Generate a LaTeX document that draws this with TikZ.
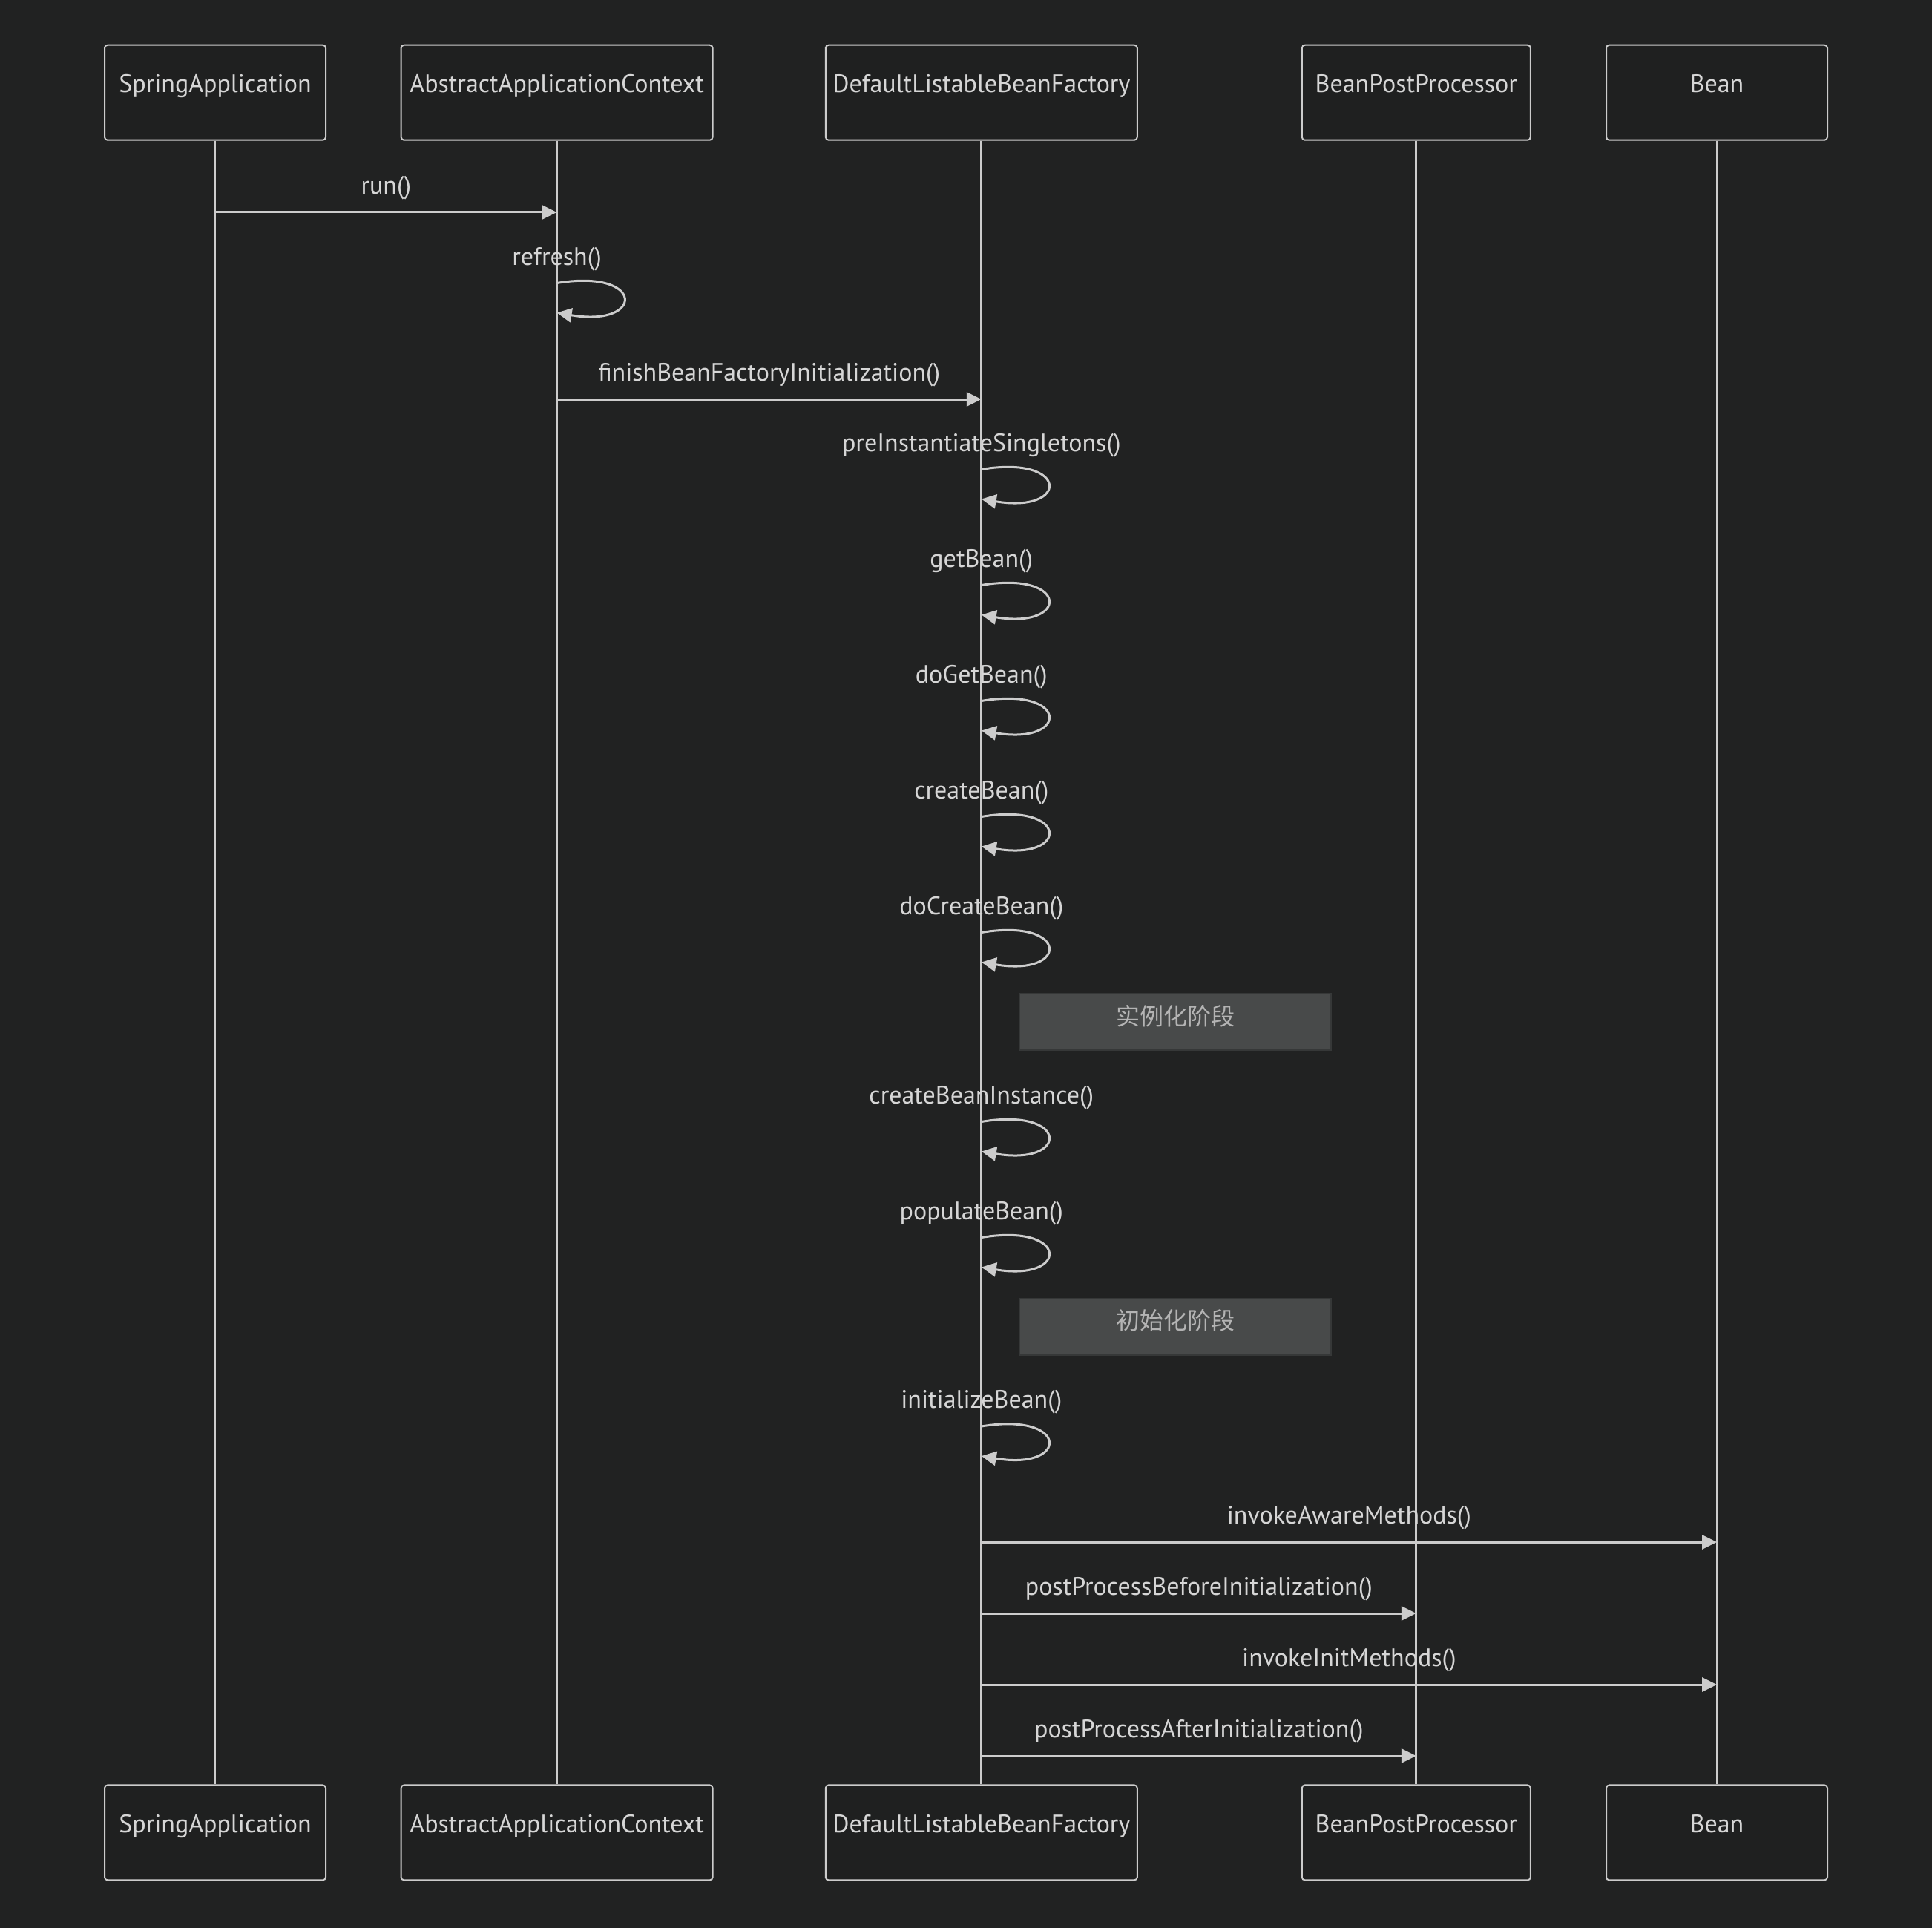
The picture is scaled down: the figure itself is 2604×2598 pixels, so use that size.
\documentclass[tikz,border=0pt]{standalone}
\usepackage{fontspec}
\setmainfont{PT Sans}
\newfontfamily\cjk{Noto Sans CJK SC}
\usetikzlibrary{arrows.meta,calc}
\definecolor{bgc}{HTML}{212222}
\definecolor{boxfill}{HTML}{1F2020}
\definecolor{linec}{HTML}{CCCCCC}
\definecolor{txtc}{HTML}{D6D6D6}
\definecolor{notefill}{HTML}{484A4A}
\definecolor{notedraw}{HTML}{363838}
\definecolor{notetxt}{HTML}{B4B4B4}
\newcommand{\seqloop}[4]{%
  \draw[msg] let \p1=(#1.south |- 0,#2) in (\p1) .. controls (\x1+119pt,\y1+20pt) and (\x1+119pt,\y1-60pt) .. (\x1,\y1-40pt);
  \node[lbl] (#3) at (#1.south |- 0,#2-24.5) {#4};}
\newcommand{\seqmsg}[5]{%
  \draw[msg] (#1.south |- 0,#3) -- (#2.south |- 0,#3);
  \node[lbl] (#4) at ($(#1.south |- 0,#3-24.5)!0.5!(#2.south |- 0,#3-24.5)$) {#5};}
\begin{document}
\begin{tikzpicture}[x=1pt,y=-1pt,
  actor/.style={draw=linec, line width=2pt, fill=boxfill, rounded corners=4pt,
    minimum height=128pt, inner sep=0pt, text=txtc,
    font=\fontsize{34}{40}\selectfont, text height=23pt, text depth=23pt},
  life/.style={draw=linec, line width=2.8pt},
  msg/.style={draw=linec, line width=3pt, -{Triangle[length=20pt,width=19pt]}},
  lbl/.style={text=txtc, font=\fontsize{34}{40}\selectfont, inner sep=0pt, anchor=base},
  note/.style={draw=notedraw, line width=2pt, fill=notefill, minimum width=420pt,
    minimum height=76pt, inner sep=0pt, text=notetxt,
    font=\cjk\fontsize{32}{38}\selectfont, text height=24pt, text depth=16pt}]
\fill[bgc] (0,0) rectangle (2604,2598);
\useasboundingbox (0,0) rectangle (2604,2598);
% top actors
\node[actor,minimum width=298pt] (sa)   at (290,124.75)    {SpringApplication};
\node[actor,minimum width=420pt] (aac)  at (750.6,124.75)  {AbstractApplicationContext};
\node[actor,minimum width=420pt] (dl)   at (1322.8,124.75) {DefaultListableBeanFactory};
\node[actor,minimum width=308pt] (bpp)  at (1908.8,124.75) {BeanPostProcessor};
\node[actor,minimum width=298pt] (bean) at (2314,124.75)   {Bean};
% bottom actors
\node[actor,minimum width=298pt] (sab)   at (290,2469.4)    {SpringApplication};
\node[actor,minimum width=420pt] (aacb)  at (750.6,2469.4)  {AbstractApplicationContext};
\node[actor,minimum width=420pt] (dlb)   at (1322.8,2469.4) {DefaultListableBeanFactory};
\node[actor,minimum width=308pt] (bppb)  at (1908.8,2469.4) {BeanPostProcessor};
\node[actor,minimum width=298pt] (beanb) at (2314,2469.4)   {Bean};
% lifelines
\draw[life] (sa.south) -- (sab.north);
\draw[life] (aac.south) -- (aacb.north);
\draw[life] (dl.south) -- (dlb.north);
\draw[life] (bpp.south) -- (bppb.north);
\draw[life] (bean.south) -- (beanb.north);
% messages
\seqmsg{sa}{aac}{286}{m1}{run()}
\seqloop{aac}{381.5}{m2}{refresh()}
\seqmsg{aac}{dl}{538}{m3}{finishBeanFactoryInitialization()}
\seqloop{dl}{632.5}{m4}{preInstantiateSingletons()}
\seqloop{dl}{788.5}{m5}{getBean()}
\seqloop{dl}{944.5}{m6}{doGetBean()}
\seqloop{dl}{1100.5}{m7}{createBean()}
\seqloop{dl}{1256.5}{m8}{doCreateBean()}
\node[note] (n1) at ($(dl.south |- 0,1377)+(261.4,0)$) {实例化阶段};
\seqloop{dl}{1511.5}{m9}{createBeanInstance()}
\seqloop{dl}{1667.5}{m10}{populateBean()}
\node[note] (n2) at ($(dl.south |- 0,1787.5)+(261.4,0)$) {初始化阶段};
\seqloop{dl}{1922}{m11}{initializeBean()}
\seqmsg{dl}{bean}{2078}{m12}{invokeAwareMethods()}
\seqmsg{dl}{bpp}{2174}{m13}{postProcessBeforeInitialization()}
\seqmsg{dl}{bean}{2270}{m14}{invokeInitMethods()}
\seqmsg{dl}{bpp}{2366}{m15}{postProcessAfterInitialization()}
\end{tikzpicture}
\end{document}
